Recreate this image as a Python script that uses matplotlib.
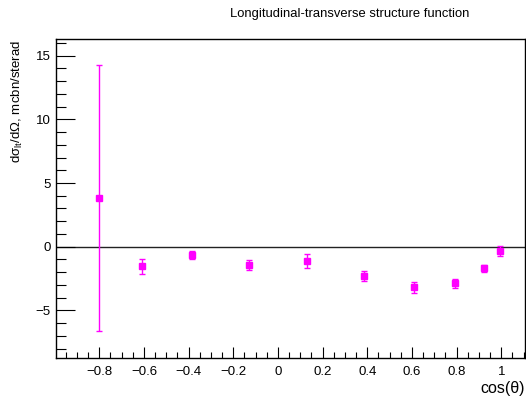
import matplotlib
matplotlib.use("Agg")
import matplotlib.pyplot as plt
from matplotlib.ticker import MultipleLocator, FuncFormatter

plt.rcParams['font.family'] = ['Liberation Sans', 'DejaVu Sans']

cos_theta = [-0.800, -0.607, -0.384, -0.128, 0.131, 0.386, 0.610, 0.794, 0.924, 0.996]
sigma_lt = [3.80, -1.54, -0.68, -1.46, -1.15, -2.33, -3.19, -2.88, -1.70, -0.36]
sigma_err = [10.46, 0.59, 0.31, 0.38, 0.55, 0.40, 0.45, 0.35, 0.25, 0.40]

W, H = 526, 405
fig = plt.figure(figsize=(W / 100, H / 100), dpi=100)
ax = fig.add_axes([56 / W, 1 - 357.7 / H, (525 - 56) / W, (357.7 - 39.3) / H])

ax.set_xlim(-0.994, 1.106)
ax.set_ylim(-8.72, 16.29)

ax.axhline(0, color='#222222', lw=1.0, zorder=1)

ax.errorbar(cos_theta, sigma_lt, yerr=sigma_err, fmt='s', color='#ff00ff',
            ms=4.5, elinewidth=1.0, capsize=2.5, capthick=1.0, zorder=3)

ax.xaxis.set_major_locator(MultipleLocator(0.2))
ax.xaxis.set_minor_locator(MultipleLocator(0.05))
ax.yaxis.set_major_locator(MultipleLocator(5))
ax.yaxis.set_minor_locator(MultipleLocator(1))


def fmt(v, _):
    if abs(v) < 1e-9:
        return '0'
    s = ('%g' % round(v, 3))
    return s.replace('-', '\u2212')


ax.xaxis.set_major_formatter(FuncFormatter(fmt))
ax.yaxis.set_major_formatter(FuncFormatter(fmt))

ax.tick_params(axis='both', which='both', direction='in', top=False, right=False,
               labelsize=9.5, width=0.8, color='black')
ax.tick_params(axis='x', which='major', length=8, pad=6)
ax.tick_params(axis='x', which='minor', length=4)
ax.tick_params(axis='y', which='major', length=14, pad=4)
ax.tick_params(axis='y', which='minor', length=7)

for sp in ax.spines.values():
    sp.set_linewidth(1.0)
    sp.set_color('black')

fig.text(525 / W, 1 - 388 / H, 'cos(\u03b8)', ha='right', va='center', fontsize=11.5)
fig.text(17 / W, 1 - 40 / H, r'$\mathregular{d\sigma_{lt}/d\Omega}$, mcbn/sterad',
         rotation=90, ha='center', va='top', fontsize=9.5)
fig.text(230 / W, 1 - 14 / H, 'Longitudinal-transverse structure function',
         ha='left', va='center', fontsize=9.4)

fig.savefig('out.png', dpi=100)
